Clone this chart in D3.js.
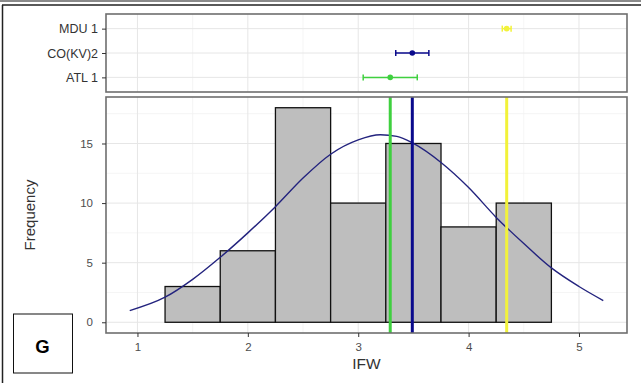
<!DOCTYPE html>
<html>
<head>
<meta charset="utf-8">
<script src="https://cdn.jsdelivr.net/npm/d3@7"></script>
<style>
  html, body { margin: 0; padding: 0; background: #fff; }
  svg { display: block; }
  text { font-family: "Liberation Sans", Arial, sans-serif; }
</style>
</head>
<body>
<svg id="chart" width="641" height="383"></svg>
<script>
// ---------- data ----------
const binLo = [1.25, 1.75, 2.25, 2.75, 3.25, 3.75, 4.25];
const binHi = [1.75, 2.25, 2.75, 3.25, 3.75, 4.25, 4.75];
const counts = [3, 6, 18, 10, 15, 8, 10];

const curveX = [0.93, 1.25, 1.5, 1.75, 2.0, 2.25, 2.5, 2.75, 3.0, 3.2, 3.35, 3.5, 3.75, 4.0, 4.25, 4.5, 4.75, 5.0, 5.22];
const curveY = [0.98, 2.1, 3.6, 5.45, 7.5, 9.7, 12.1, 14.1, 15.3, 15.73, 15.6, 15.0, 13.4, 11.3, 8.8, 6.6, 4.56, 3.0, 1.82];

const groups = ["ATL 1", "CO(KV)2", "MDU 1"];
const groupMean = [3.29, 3.49, 4.345];
const groupLow = [3.045, 3.34, 4.305];
const groupHigh = [3.535, 3.64, 4.385];
const groupColor = ["#3fd03f", "#0a0a8c", "#f2f23a"];

const xTicks = [1, 2, 3, 4, 5];
const xMinor = [1.5, 2.5, 3.5, 4.5];
const yTicks = [0, 5, 10, 15];
const yMinor = [2.5, 7.5, 12.5, 17.5];

const xTitle = "IFW";
const yTitle = "Frequency";
const panelLetter = "G";

// ---------- layout ----------
const svg = d3.select("#chart");
const L = 106, R = 627;
const topP = { t: 14, b: 92 };
const botP = { t: 97, b: 333 };

const x = d3.scaleLinear().domain([0.715, 5.435]).range([L, R]);
const y = d3.scaleLinear().domain([-0.9, 18.9]).range([botP.b, botP.t]);
const yTop = d3.scalePoint().domain(groups).range([topP.b, topP.t]).padding(0.6);

const gridMajor = "#e6e6e6", gridMinor = "#f2f2f2";
const border = "#6e6e6e";
const tickCol = "#4d4d4d";

// outer frame
svg.append("rect").attr("x", 0).attr("y", 0).attr("width", 641).attr("height", 2).attr("fill", "#8a8a8a");
svg.append("line").attr("x1", 2).attr("x2", 641).attr("y1", 5).attr("y2", 5).attr("stroke", "#222").attr("stroke-width", 1.5);
svg.append("line").attr("x1", 2.5).attr("x2", 2.5).attr("y1", 5).attr("y2", 383).attr("stroke", "#222").attr("stroke-width", 1.5);

// ---------- top panel ----------
const gT = svg.append("g");
gT.selectAll(".vmin").data(xMinor).join("line")
  .attr("x1", d => x(d)).attr("x2", d => x(d)).attr("y1", topP.t).attr("y2", topP.b)
  .attr("stroke", gridMinor).attr("stroke-width", 0.8);
gT.selectAll(".vmaj").data(xTicks).join("line")
  .attr("x1", d => x(d)).attr("x2", d => x(d)).attr("y1", topP.t).attr("y2", topP.b)
  .attr("stroke", gridMajor).attr("stroke-width", 1);
gT.selectAll(".hmaj").data(groups).join("line")
  .attr("x1", L).attr("x2", R).attr("y1", d => yTop(d)).attr("y2", d => yTop(d))
  .attr("stroke", gridMajor).attr("stroke-width", 1);

const err = gT.selectAll(".err").data(groups).join("g");
err.append("line")
  .attr("x1", (d, i) => x(groupLow[i])).attr("x2", (d, i) => x(groupHigh[i]))
  .attr("y1", d => yTop(d)).attr("y2", d => yTop(d))
  .attr("stroke", (d, i) => groupColor[i]).attr("stroke-width", 1.5);
err.append("line")
  .attr("x1", (d, i) => x(groupLow[i])).attr("x2", (d, i) => x(groupLow[i]))
  .attr("y1", d => yTop(d) - 3).attr("y2", d => yTop(d) + 3)
  .attr("stroke", (d, i) => groupColor[i]).attr("stroke-width", 1.5);
err.append("line")
  .attr("x1", (d, i) => x(groupHigh[i])).attr("x2", (d, i) => x(groupHigh[i]))
  .attr("y1", d => yTop(d) - 3).attr("y2", d => yTop(d) + 3)
  .attr("stroke", (d, i) => groupColor[i]).attr("stroke-width", 1.5);
err.append("circle")
  .attr("cx", (d, i) => x(groupMean[i])).attr("cy", d => yTop(d)).attr("r", 2.8)
  .attr("fill", (d, i) => groupColor[i]);

gT.append("rect").attr("x", L).attr("y", topP.t).attr("width", R - L).attr("height", topP.b - topP.t)
  .attr("fill", "none").attr("stroke", border).attr("stroke-width", 1.6);

const axT = svg.append("g").attr("transform", `translate(${L},0)`)
  .call(d3.axisLeft(yTop).tickSize(4).tickPadding(4));
axT.select(".domain").remove();
axT.selectAll(".tick line").attr("stroke", "#333").attr("stroke-width", 1);
axT.selectAll(".tick text").attr("fill", "#333").style("font-size", "12.5px")
  .style("font-family", "'Liberation Sans', Arial, sans-serif");

// ---------- bottom panel ----------
const gB = svg.append("g");
gB.selectAll(".vmin").data(xMinor).join("line")
  .attr("x1", d => x(d)).attr("x2", d => x(d)).attr("y1", botP.t).attr("y2", botP.b)
  .attr("stroke", gridMinor).attr("stroke-width", 0.8);
gB.selectAll(".hmin").data(yMinor).join("line")
  .attr("x1", L).attr("x2", R).attr("y1", d => y(d)).attr("y2", d => y(d))
  .attr("stroke", gridMinor).attr("stroke-width", 0.8);
gB.selectAll(".vmaj").data(xTicks).join("line")
  .attr("x1", d => x(d)).attr("x2", d => x(d)).attr("y1", botP.t).attr("y2", botP.b)
  .attr("stroke", gridMajor).attr("stroke-width", 1);
gB.selectAll(".hmaj").data(yTicks).join("line")
  .attr("x1", L).attr("x2", R).attr("y1", d => y(d)).attr("y2", d => y(d))
  .attr("stroke", gridMajor).attr("stroke-width", 1);

gB.selectAll(".bar").data(counts).join("rect")
  .attr("x", (d, i) => x(binLo[i])).attr("width", (d, i) => x(binHi[i]) - x(binLo[i]))
  .attr("y", d => y(d)).attr("height", d => y(0) - y(d))
  .attr("fill", "#bebebe").attr("stroke", "#111").attr("stroke-width", 1.3);

const curvePts = curveX.map((v, i) => [v, curveY[i]]);
gB.append("path").datum(curvePts)
  .attr("d", d3.line().x(d => x(d[0])).y(d => y(d[1])).curve(d3.curveMonotoneX))
  .attr("fill", "none").attr("stroke", "#23237e").attr("stroke-width", 1.4);

gB.selectAll(".vref").data(groups).join("line")
  .attr("x1", (d, i) => x(groupMean[i])).attr("x2", (d, i) => x(groupMean[i]))
  .attr("y1", botP.t).attr("y2", botP.b)
  .attr("stroke", (d, i) => groupColor[i]).attr("stroke-width", 3);

gB.append("rect").attr("x", L).attr("y", botP.t).attr("width", R - L).attr("height", botP.b - botP.t)
  .attr("fill", "none").attr("stroke", border).attr("stroke-width", 1.6);

const axY = svg.append("g").attr("transform", `translate(${L},0)`)
  .call(d3.axisLeft(y).tickValues(yTicks).tickFormat(d3.format("d")).tickSize(4).tickPadding(9));
axY.select(".domain").remove();
axY.selectAll(".tick line").attr("stroke", "#333");
axY.selectAll(".tick text").attr("fill", tickCol).style("font-size", "11.5px")
  .style("font-family", "'Liberation Sans', Arial, sans-serif");

const axX = svg.append("g").attr("transform", `translate(0,${botP.b})`)
  .call(d3.axisBottom(x).tickValues(xTicks).tickFormat(d3.format("d")).tickSize(4).tickPadding(6));
axX.select(".domain").remove();
axX.selectAll(".tick line").attr("stroke", "#333");
axX.selectAll(".tick text").attr("fill", tickCol).style("font-size", "11.5px")
  .style("font-family", "'Liberation Sans', Arial, sans-serif");

// titles
svg.append("text").attr("x", (L + R) / 2).attr("y", 368.5).attr("text-anchor", "middle")
  .attr("fill", "#333").style("font-size", "15.5px").text(xTitle);
svg.append("text").attr("transform", `translate(35,${(botP.t + botP.b) / 2}) rotate(-90)`)
  .attr("text-anchor", "middle").attr("fill", "#333").style("font-size", "15px").text(yTitle);

// panel letter box
svg.append("rect").attr("x", 13.5).attr("y", 314).attr("width", 59).attr("height", 59)
  .attr("fill", "#fff").attr("stroke", "#111").attr("stroke-width", 1);
svg.append("text").attr("x", 42.5).attr("y", 352.5).attr("text-anchor", "middle")
  .attr("fill", "#000").style("font-size", "18.5px").style("font-weight", "bold").text(panelLetter);
</script>
</body>
</html>
